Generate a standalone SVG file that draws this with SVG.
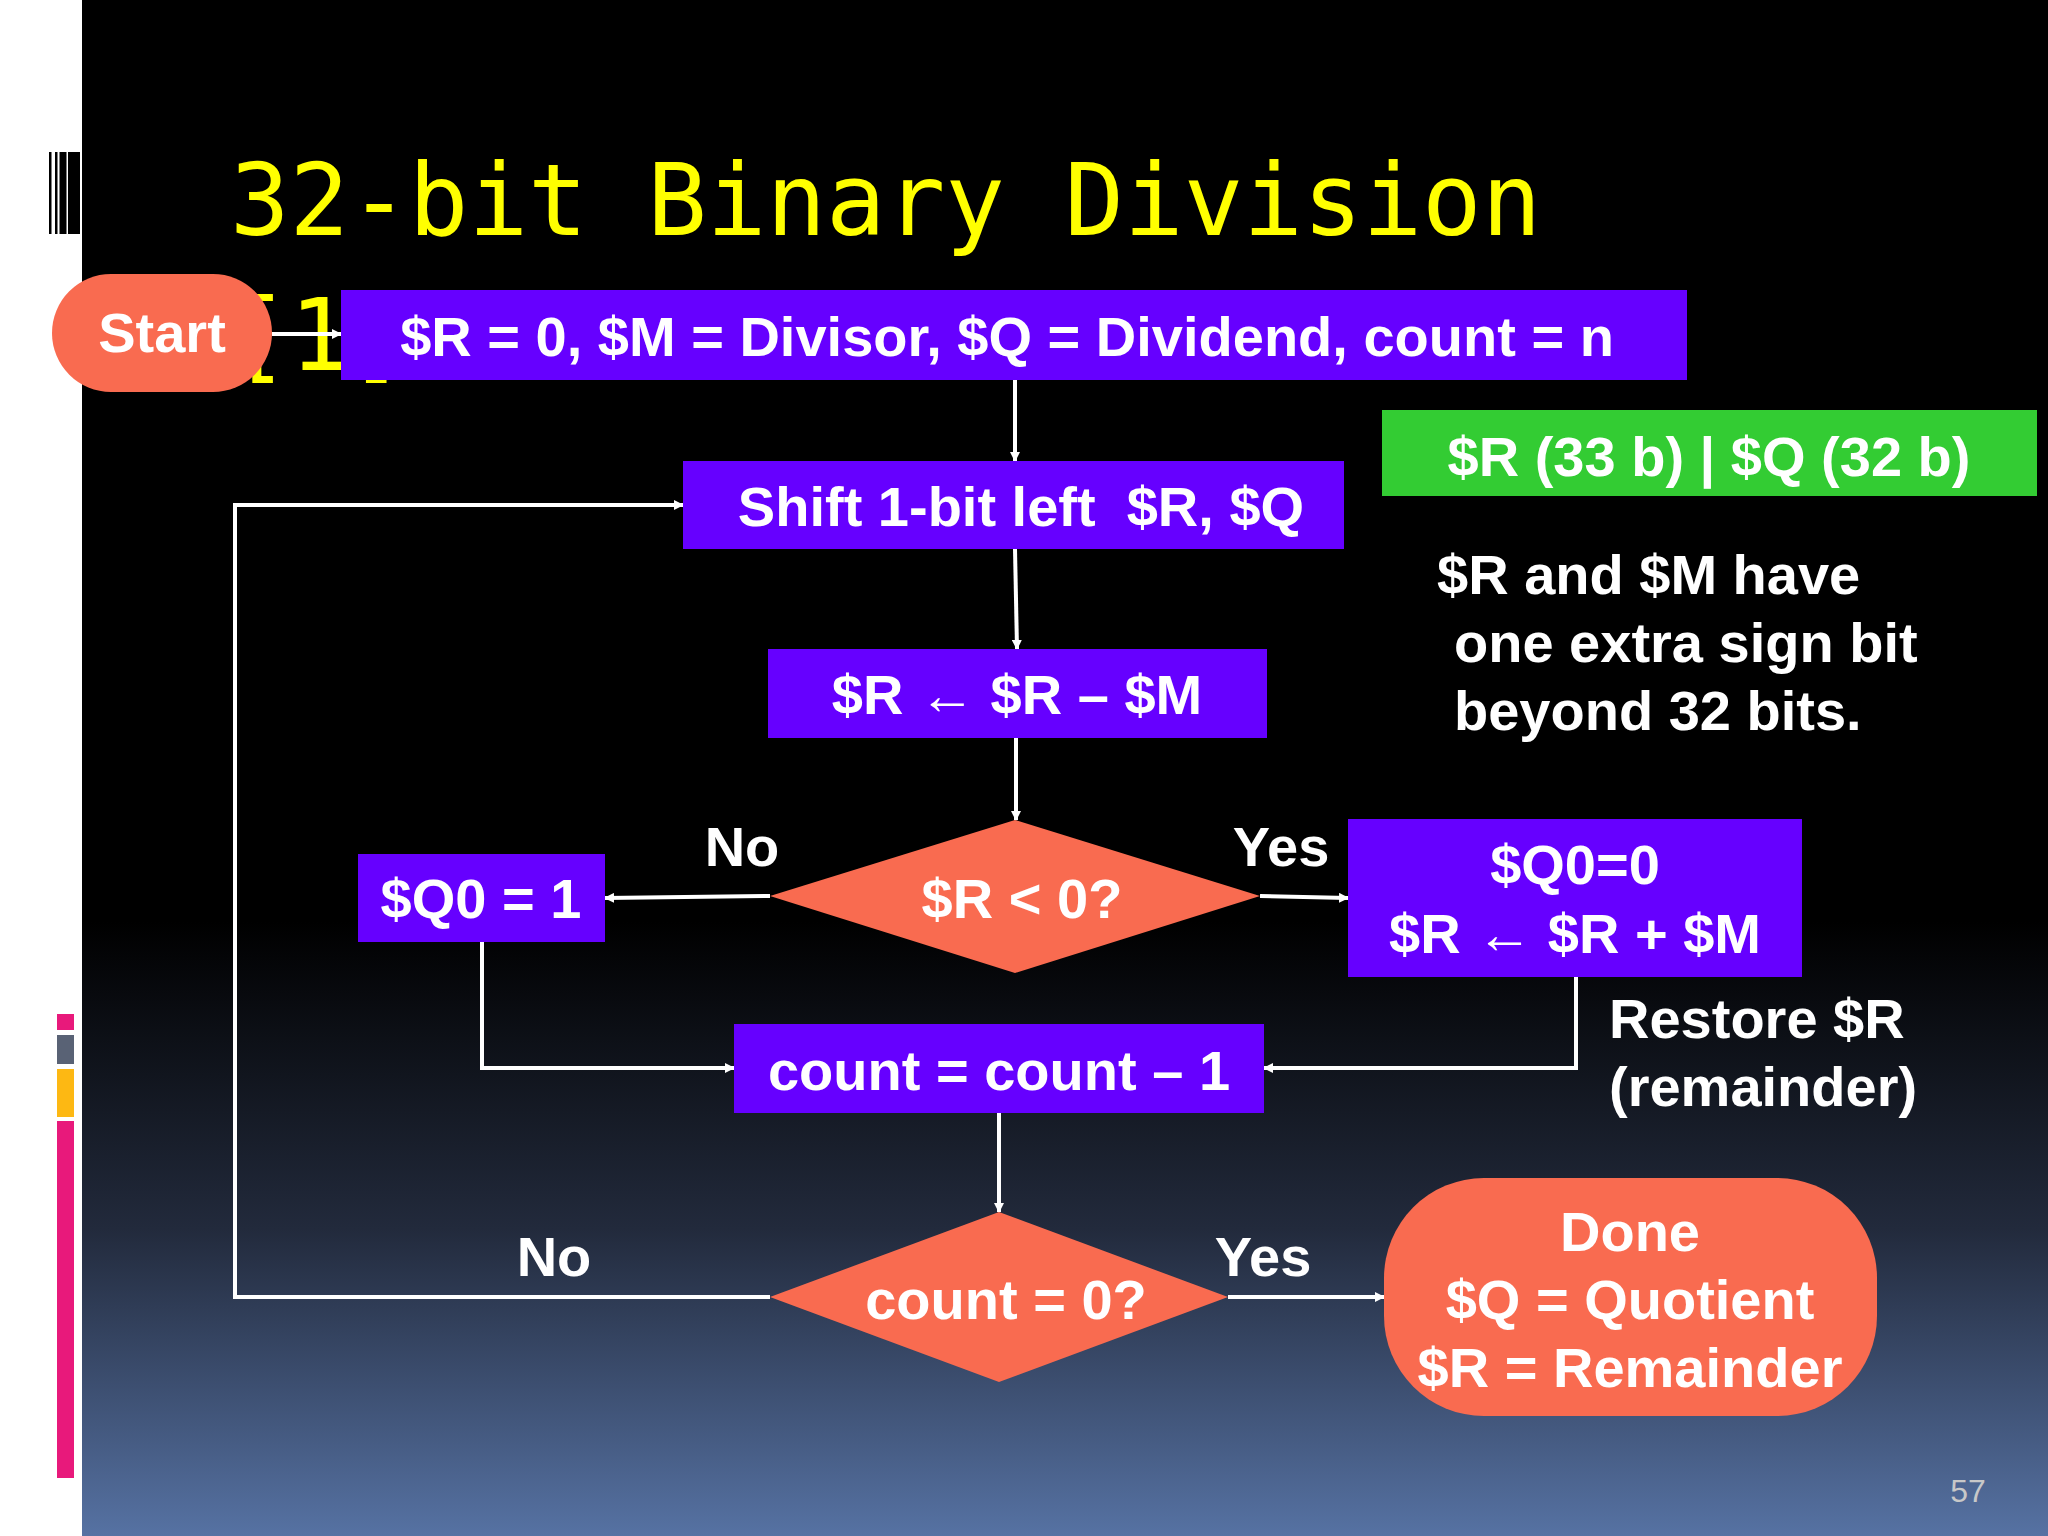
<svg xmlns="http://www.w3.org/2000/svg" width="2048" height="1536" viewBox="0 0 2048 1536">
<defs>
<linearGradient id="bg" x1="0" y1="0" x2="0" y2="1">
<stop offset="0" stop-color="#000"/><stop offset="0.6" stop-color="#000"/><stop offset="0.8" stop-color="#222a3c"/><stop offset="1" stop-color="#5672a3"/>
</linearGradient>
<marker id="ah" markerWidth="10" markerHeight="10" refX="9" refY="5" orient="auto" markerUnits="userSpaceOnUse" viewBox="0 0 10 10"><path d="M0,0 L10,5 L0,10 z" fill="#fff"/></marker>
<style>
.t{font-family:"Liberation Sans",Arial,sans-serif;font-weight:bold;fill:#fff;font-size:56px}
.c{text-anchor:middle}
.box{fill:#6600ff}
.or{fill:#f96b50}
.ln{stroke:#fff;stroke-width:4;fill:none;marker-end:url(#ah)}
</style>
</defs>
<rect width="2048" height="1536" fill="#fff"/>
<rect x="82" y="0" width="1966" height="1536" fill="url(#bg)"/>
<g fill="#000"><rect x="49" y="152" width="2.5" height="82"/><rect x="55" y="152" width="2.5" height="82"/><rect x="59.5" y="152" width="7" height="82"/><rect x="68" y="152" width="12" height="82"/></g>
<rect x="57" y="1014" width="17" height="16" fill="#e8197b"/>
<rect x="57" y="1035" width="17" height="29" fill="#596275"/>
<rect x="57" y="1069" width="17" height="48" fill="#fdb813"/>
<rect x="57" y="1121" width="17" height="357" fill="#e8197b"/>
<g font-family="'DejaVu Sans Mono',monospace" font-size="99" fill="#ffff00">
<text x="230" y="235">32-bit Binary Division</text>
<text x="230" y="370">[1]</text>
</g>
<g id="connectors">
<path class="ln" d="M272,334 L341,334"/>
<path class="ln" d="M1015,380 L1015,461"/>
<path class="ln" d="M1015,549 L1017,649"/>
<path class="ln" d="M1016,738 L1016,820"/>
<path class="ln" d="M770,896 L605,898"/>
<path class="ln" d="M1260,896 L1348,898"/>
<path class="ln" d="M482,942 L482,1068 L734,1068"/>
<path class="ln" d="M1576,977 L1576,1068 L1264,1068"/>
<path class="ln" d="M999,1113 L999,1212"/>
<path class="ln" d="M1228,1297 L1384,1297"/>
<path class="ln" d="M770,1297 L235,1297 L235,505 L683,505"/>
</g>
<g id="start"><rect class="or" x="52" y="274" width="220" height="118" rx="59"/><text class="t c" x="162" y="352">Start</text></g>
<g id="init"><rect class="box" x="341" y="290" width="1346" height="90"/><text class="t c" x="1007" y="356">$R = 0, $M = Divisor, $Q = Dividend, count = n</text></g>
<g id="regs"><rect x="1382" y="410" width="655" height="86" fill="#33cc33"/><text class="t c" x="1709" y="476" font-size="64">$R (33 b) | $Q (32 b)</text></g>
<g id="shift"><rect class="box" x="683" y="461" width="661" height="88"/><text class="t c" x="1021" y="526" xml:space="preserve">Shift 1-bit left  $R, $Q</text></g>
<g id="sub"><rect class="box" x="768" y="649" width="499" height="89"/><text class="t c" x="1017" y="714">$R ← $R – $M</text></g>
<g id="d1"><polygon class="or" points="770,896 1015,820 1260,896 1015,973"/><text class="t c" x="1022" y="918">$R &lt; 0?</text></g>
<g id="q1"><rect class="box" x="358" y="854" width="247" height="88"/><text class="t c" x="481" y="918">$Q0 = 1</text></g>
<g id="restore"><rect class="box" x="1348" y="819" width="454" height="158"/><text class="t c" x="1575" y="884">$Q0=0</text><text class="t c" x="1575" y="953">$R ← $R + $M</text></g>
<g id="count"><rect class="box" x="734" y="1024" width="530" height="89"/><text class="t c" x="999" y="1090">count = count – 1</text></g>
<g id="d2"><polygon class="or" points="770,1297 999,1212 1228,1297 999,1382"/><text class="t c" x="1006" y="1319">count = 0?</text></g>
<g id="done"><rect class="or" x="1384" y="1178" width="493" height="238" rx="100"/><text class="t c" x="1630" y="1251">Done</text><text class="t c" x="1630" y="1319">$Q = Quotient</text><text class="t c" x="1630" y="1387">$R = Remainder</text></g>
<g id="labels">
<text class="t c" x="742" y="866">No</text><text class="t c" x="1281" y="866">Yes</text>
<text class="t c" x="554" y="1276">No</text><text class="t c" x="1263" y="1276">Yes</text>
<text class="t" x="1437" y="594">$R and $M have</text>
<text class="t" x="1454" y="662">one extra sign bit</text>
<text class="t" x="1454" y="730">beyond 32 bits.</text>
<text class="t" x="1609" y="1038">Restore $R</text>
<text class="t" x="1609" y="1106">(remainder)</text>
</g>
<text x="1968" y="1502" font-family="'Liberation Sans',Arial,sans-serif" font-size="32" fill="#c8c8c8" text-anchor="middle">57</text>
</svg>
